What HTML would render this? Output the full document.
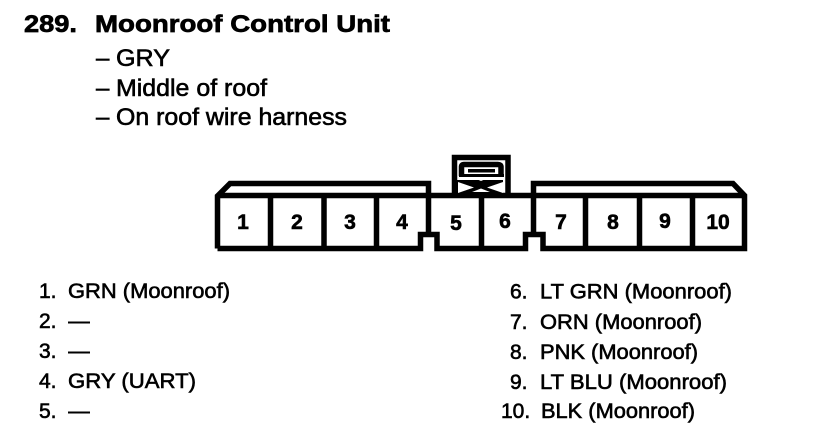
<!DOCTYPE html>
<html><head><meta charset="utf-8"><style>
html,body{margin:0;padding:0;background:#fff}
svg{display:block}
text{font-family:"Liberation Sans",sans-serif;fill:#000;stroke:#000}
.t{font-size:24.500px;font-weight:bold;stroke-width:.7}
.s{font-size:24px;stroke-width:.6}
.n{font-size:21px;font-weight:bold;text-anchor:middle;stroke-width:.6}
.l{font-size:21px;stroke-width:.6}
</style></head><body>
<svg width="832" height="430" viewBox="0 0 832 430" xmlns="http://www.w3.org/2000/svg">
<rect width="832" height="430" fill="#fff"/>
<text class="t" x="24" y="32" textLength="53" lengthAdjust="spacingAndGlyphs">289.</text>
<text class="t" x="95" y="32" textLength="295" lengthAdjust="spacingAndGlyphs">Moonroof Control Unit</text>
<text class="s" x="96" y="66">–</text><text class="s" x="116" y="66" textLength="54" lengthAdjust="spacingAndGlyphs">GRY</text>
<text class="s" x="96" y="96">–</text><text class="s" x="116" y="96" textLength="151" lengthAdjust="spacingAndGlyphs">Middle of roof</text>
<text class="s" x="96" y="125">–</text><text class="s" x="116" y="125" textLength="231" lengthAdjust="spacingAndGlyphs">On roof wire harness</text>

<g fill="none" stroke="#000" stroke-width="5.500">
<path d="M217.500 248.500V196L230 183.500H428.500V232"/>
<path d="M217.500 195.500H744.500"/>
<path d="M217.500 248.500H420.500V234.500H437V248.500H525.500V234.500H543V248.500H744.500V195.500L733 183.500H533.500V232"/>
<path d="M270.500 196V248M324 196V248M376.500 196V248M481.500 196V248M585.500 196V248M639.500 196V248M692.500 196V248"/>
<path d="M454.500 194V157.500H508V194"/>
<path d="M461.500 176V167Q461.500 164.500 464 164.500H498Q501 164.500 501 167V176"/>
</g>
<rect x="468" y="169" width="27" height="3.500" fill="#000"/>
<rect x="459" y="174" width="45" height="3" fill="#000"/>
<path d="M457 180H503V193H457Z" fill="#000"/>
<path d="M458 182L474 187.500L458 193Z" fill="#fff"/>
<path d="M503 182L487 187.500L503 193Z" fill="#fff"/>
<path d="M474 178L481 181L488 178Z M472 192L481 188.500L490 192Z" fill="#fff"/>

<text class="n" x="243" y="229">1</text>
<text class="n" x="297" y="229">2</text>
<text class="n" x="350" y="229">3</text>
<text class="n" x="402" y="229">4</text>
<text class="n" x="456" y="230">5</text>
<text class="n" x="505" y="228">6</text>
<text class="n" x="561" y="229">7</text>
<text class="n" x="613" y="229">8</text>
<text class="n" x="665" y="228">9</text>
<text class="n" x="718" y="229">10</text>

<text class="l" x="39" y="298">1.</text><text class="l" x="68" y="298" textLength="162" lengthAdjust="spacingAndGlyphs">GRN (Moonroof)</text>
<text class="l" x="39" y="328">2.</text><rect x="68" y="321.500" width="22" height="2" fill="#000"/>
<text class="l" x="39" y="358">3.</text><rect x="68" y="351.500" width="22" height="2" fill="#000"/>
<text class="l" x="39" y="388">4.</text><text class="l" x="68" y="388" textLength="128" lengthAdjust="spacingAndGlyphs">GRY (UART)</text>
<text class="l" x="39" y="418">5.</text><rect x="68" y="411.500" width="22" height="2" fill="#000"/>

<text class="l" x="510" y="298.500">6.</text><text class="l" x="540" y="298.500" textLength="192" lengthAdjust="spacingAndGlyphs">LT GRN (Moonroof)</text>
<text class="l" x="510" y="329">7.</text><text class="l" x="540" y="329" textLength="162" lengthAdjust="spacingAndGlyphs">ORN (Moonroof)</text>
<text class="l" x="510" y="359">8.</text><text class="l" x="540" y="359" textLength="158" lengthAdjust="spacingAndGlyphs">PNK (Moonroof)</text>
<text class="l" x="510" y="389">9.</text><text class="l" x="540" y="389" textLength="187" lengthAdjust="spacingAndGlyphs">LT BLU (Moonroof)</text>
<text class="l" x="501" y="418">10.</text><text class="l" x="541" y="418" textLength="154" lengthAdjust="spacingAndGlyphs">BLK (Moonroof)</text>
</svg>
</body></html>
